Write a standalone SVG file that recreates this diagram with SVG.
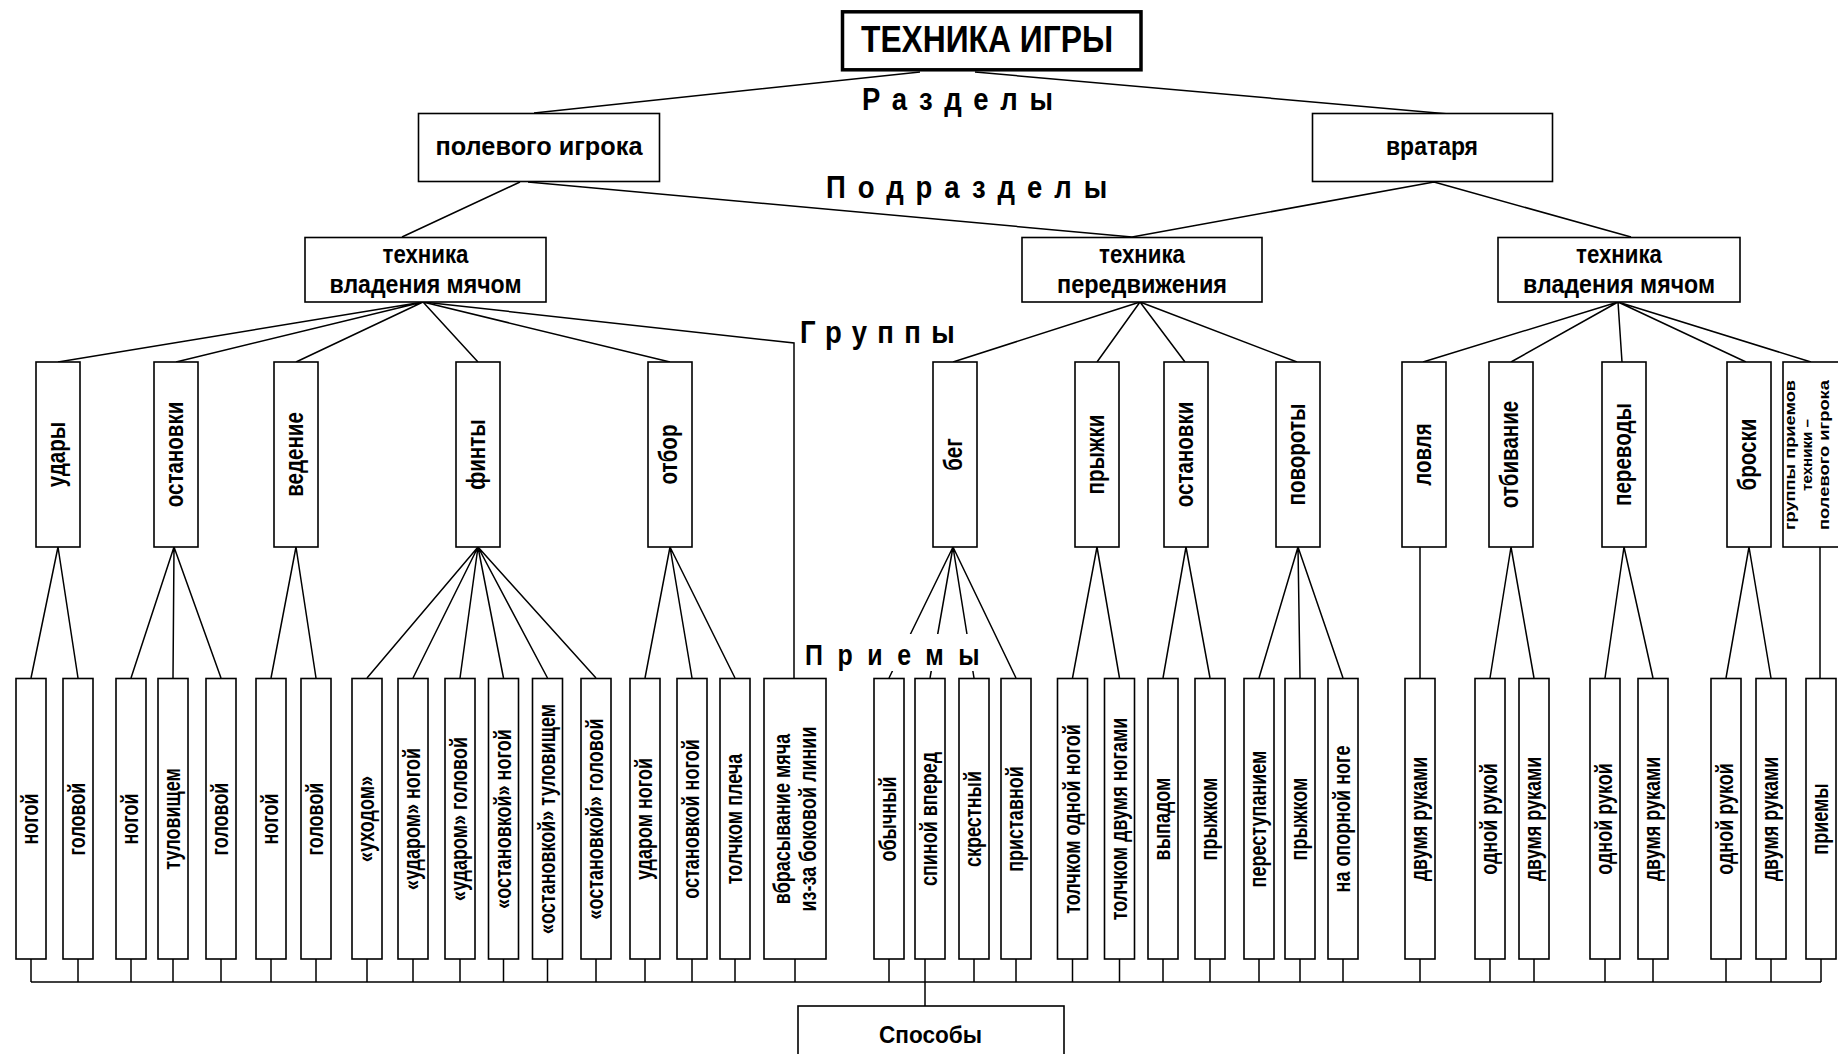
<svg xmlns="http://www.w3.org/2000/svg" width="1838" height="1054" viewBox="0 0 1838 1054">
<style>
text { font-family: "Liberation Sans", Arial, sans-serif; font-weight: bold; fill: #000; }
.box { fill: #fff; stroke: #000; stroke-width: 1.6; }
.title { fill: #fff; stroke: #000; stroke-width: 3.5; }
.ln { stroke: #000; stroke-width: 1.5; fill: none; }
.lbl { font-size: 32px; }
.t26 { font-size: 26px; }
.grp { font-size: 26px; text-anchor: middle; }
.leaf { font-size: 24px; text-anchor: middle; }
.tiny { font-size: 14px; }
</style>

<g id="connectors" class="ln">
  <path d="M920,72 L534,113 M975,72 L1449,114"/>
  <path d="M520,182 L402,237 M528,182 L1132,237 M1434,182 L1132,237 M1434,182 L1631,237"/>
  <path d="M423,302 L58,362 M423,302 L176,362 M423,302 L296,362 M423,302 L478,362 M423,302 L670,362"/>
  <polyline points="423,302 794,343 794,678"/>
  <path d="M1140,302 L953,362 M1140,302 L1097,362 M1140,302 L1185,362 M1140,302 L1297,362"/>
  <path d="M1618,302 L1423,362 M1618,302 L1511,362 M1618,302 L1622,362 M1618,302 L1746,362 M1618,302 L1811,362"/>
  <path d="M58,547 L31,678 M58,547 L78,678"/>
  <path d="M174,547 L131,678 M174,547 L173,678 M174,547 L221,678"/>
  <path d="M296,547 L271,678 M296,547 L316,678"/>
  <path d="M478,547 L367,678 M478,547 L413,678 M478,547 L460,678 M478,547 L503.5,678 M478,547 L547.5,678 M478,547 L596,678"/>
  <path d="M670,547 L645,678 M670,547 L692,678 M670,547 L735,678"/>
  <path d="M953,547 L889,678 M953,547 L930,678 M953,547 L974,678 M953,547 L1016,678"/>
  <path d="M1097,547 L1072.5,678 M1097,547 L1119.5,678"/>
  <path d="M1186,547 L1163,678 M1186,547 L1210,678"/>
  <path d="M1298,547 L1259,678 M1298,547 L1300,678 M1298,547 L1343,678"/>
  <path d="M1420,547 L1420,678"/>
  <path d="M1511,547 L1490,678 M1511,547 L1534,678"/>
  <path d="M1624,547 L1605,678 M1624,547 L1653,678"/>
  <path d="M1749,547 L1726,678 M1749,547 L1771,678"/>
  <path d="M1820,547 L1820,678"/>
  <path d="M31,959V982 M78,959V982 M131,959V982 M173,959V982 M221,959V982 M271,959V982 M316,959V982 M367,959V982 M413,959V982 M460,959V982 M503.5,959V982 M547.5,959V982 M596,959V982 M645,959V982 M692,959V982 M735,959V982 M795,959V982 M889,959V982 M925,959V982 M974,959V982 M1016,959V982 M1072.5,959V982 M1119.5,959V982 M1163,959V982 M1210,959V982 M1259,959V982 M1300,959V982 M1343,959V982 M1420,959V982 M1490,959V982 M1534,959V982 M1605,959V982 M1653,959V982 M1726,959V982 M1771,959V982 M1821,959V982"/>
  <path d="M31,982 H1821"/>
  <path d="M925,982 V1006"/>
</g>

<g id="root">
  <rect class="title" x="842.5" y="11.8" width="298.5" height="58"/>
  <text x="861" y="52" style="font-size:37px" textLength="252" lengthAdjust="spacingAndGlyphs">ТЕХНИКА ИГРЫ</text>
</g>

<g id="labels">
  <text class="lbl" transform="translate(862,110) scale(0.86,1)" textLength="222" lengthAdjust="spacing">Разделы</text>
  <text class="lbl" transform="translate(826,198) scale(0.86,1)" textLength="327" lengthAdjust="spacing">Подразделы</text>
  <text class="lbl" transform="translate(800,343) scale(0.86,1)" textLength="180" lengthAdjust="spacing">Группы</text>
  <rect x="800" y="634" width="190" height="37" fill="#fff"/>
  <text style="font-size:29px" transform="translate(805,665) scale(0.86,1)" textLength="203" lengthAdjust="spacing">Приемы</text>
</g>

<g id="n-polevogo">
  <rect class="box" x="418.5" y="113.5" width="241" height="68"/>
  <text class="t26" x="435.5" y="155" textLength="207" lengthAdjust="spacingAndGlyphs">полевого игрока</text>
</g>
<g id="n-vratarya">
  <rect class="box" x="1312.5" y="113.5" width="240" height="68"/>
  <text class="t26" x="1386" y="155" textLength="92" lengthAdjust="spacingAndGlyphs">вратаря</text>
</g>

<g id="n-tvm1">
  <rect class="box" x="305" y="237.5" width="241" height="64.5"/>
  <text class="t26" x="382.5" y="263" textLength="86" lengthAdjust="spacingAndGlyphs">техника</text>
  <text class="t26" x="329.5" y="293" textLength="192" lengthAdjust="spacingAndGlyphs">владения мячом</text>
</g>
<g id="n-tp">
  <rect class="box" x="1022" y="237.5" width="240" height="64.5"/>
  <text class="t26" x="1099" y="263" textLength="86" lengthAdjust="spacingAndGlyphs">техника</text>
  <text class="t26" x="1057" y="293" textLength="170" lengthAdjust="spacingAndGlyphs">передвижения</text>
</g>
<g id="n-tvm2">
  <rect class="box" x="1498" y="237.5" width="242" height="64.5"/>
  <text class="t26" x="1576" y="263" textLength="86" lengthAdjust="spacingAndGlyphs">техника</text>
  <text class="t26" x="1523" y="293" textLength="192" lengthAdjust="spacingAndGlyphs">владения мячом</text>
</g>

<g id="g-udary"><rect class="box" x="36" y="362" width="44" height="185"/><text class="grp" transform="translate(58,454.5) rotate(-90) scale(0.79,1)" y="7">удары</text></g>
<g id="g-ostanovki1"><rect class="box" x="154" y="362" width="44" height="185"/><text class="grp" transform="translate(176,454.5) rotate(-90) scale(0.79,1)" y="7">остановки</text></g>
<g id="g-vedenie"><rect class="box" x="274" y="362" width="44" height="185"/><text class="grp" transform="translate(296,454.5) rotate(-90) scale(0.79,1)" y="7">ведение</text></g>
<g id="g-finty"><rect class="box" x="456" y="362" width="44" height="185"/><text class="grp" transform="translate(478,454.5) rotate(-90) scale(0.79,1)" y="7">финты</text></g>
<g id="g-otbor"><rect class="box" x="648" y="362" width="44" height="185"/><text class="grp" transform="translate(670,454.5) rotate(-90) scale(0.79,1)" y="7">отбор</text></g>
<g id="g-beg"><rect class="box" x="933" y="362" width="44" height="185"/><text class="grp" transform="translate(955,454.5) rotate(-90) scale(0.79,1)" y="7">бег</text></g>
<g id="g-pryzhki"><rect class="box" x="1075" y="362" width="44" height="185"/><text class="grp" transform="translate(1097,454.5) rotate(-90) scale(0.79,1)" y="7">прыжки</text></g>
<g id="g-ostanovki2"><rect class="box" x="1164" y="362" width="44" height="185"/><text class="grp" transform="translate(1186,454.5) rotate(-90) scale(0.79,1)" y="7">остановки</text></g>
<g id="g-povoroty"><rect class="box" x="1276" y="362" width="44" height="185"/><text class="grp" transform="translate(1298,454.5) rotate(-90) scale(0.79,1)" y="7">повороты</text></g>
<g id="g-lovlya"><rect class="box" x="1402" y="362" width="44" height="185"/><text class="grp" transform="translate(1424,454.5) rotate(-90) scale(0.79,1)" y="7">ловля</text></g>
<g id="g-otbivanie"><rect class="box" x="1489" y="362" width="44" height="185"/><text class="grp" transform="translate(1511,454.5) rotate(-90) scale(0.79,1)" y="7">отбивание</text></g>
<g id="g-perevody"><rect class="box" x="1602" y="362" width="44" height="185"/><text class="grp" transform="translate(1624,454.5) rotate(-90) scale(0.79,1)" y="7">переводы</text></g>
<g id="g-broski"><rect class="box" x="1727" y="362" width="44" height="185"/><text class="grp" transform="translate(1749,454.5) rotate(-90) scale(0.79,1)" y="7">броски</text></g>
<g id="g-gruppy">
  <rect class="box" x="1783" y="362" width="56" height="185"/>
  <g transform="translate(1820,455) rotate(-90)">
    <text class="tiny" x="-75" y="-25" textLength="150" lengthAdjust="spacingAndGlyphs">группы приемов</text>
    <text class="tiny" x="-36" y="-8" textLength="72" lengthAdjust="spacingAndGlyphs">техники –</text>
    <text class="tiny" x="-75" y="9" textLength="150" lengthAdjust="spacingAndGlyphs">полевого игрока</text>
  </g>
</g>

<g id="l01"><rect class="box" x="16" y="678.5" width="30" height="280.5"/><text class="leaf" transform="translate(31,819) rotate(-90) scale(0.75,1)" y="7">ногой</text></g>
<g id="l02"><rect class="box" x="63" y="678.5" width="30" height="280.5"/><text class="leaf" transform="translate(78,819) rotate(-90) scale(0.75,1)" y="7">головой</text></g>
<g id="l03"><rect class="box" x="116" y="678.5" width="30" height="280.5"/><text class="leaf" transform="translate(131,819) rotate(-90) scale(0.75,1)" y="7">ногой</text></g>
<g id="l04"><rect class="box" x="158" y="678.5" width="30" height="280.5"/><text class="leaf" transform="translate(173,819) rotate(-90) scale(0.75,1)" y="7">туловищем</text></g>
<g id="l05"><rect class="box" x="206" y="678.5" width="30" height="280.5"/><text class="leaf" transform="translate(221,819) rotate(-90) scale(0.75,1)" y="7">головой</text></g>
<g id="l06"><rect class="box" x="256" y="678.5" width="30" height="280.5"/><text class="leaf" transform="translate(271,819) rotate(-90) scale(0.75,1)" y="7">ногой</text></g>
<g id="l07"><rect class="box" x="301" y="678.5" width="30" height="280.5"/><text class="leaf" transform="translate(316,819) rotate(-90) scale(0.75,1)" y="7">головой</text></g>
<g id="l08"><rect class="box" x="352" y="678.5" width="30" height="280.5"/><text class="leaf" transform="translate(367,819) rotate(-90) scale(0.75,1)" y="7">«уходом»</text></g>
<g id="l09"><rect class="box" x="398" y="678.5" width="30" height="280.5"/><text class="leaf" transform="translate(413,819) rotate(-90) scale(0.75,1)" y="7">«ударом» ногой</text></g>
<g id="l10"><rect class="box" x="445" y="678.5" width="30" height="280.5"/><text class="leaf" transform="translate(460,819) rotate(-90) scale(0.75,1)" y="7">«ударом» головой</text></g>
<g id="l11"><rect class="box" x="488.5" y="678.5" width="30" height="280.5"/><text class="leaf" transform="translate(503.5,819) rotate(-90) scale(0.75,1)" y="7">«остановкой» ногой</text></g>
<g id="l12"><rect class="box" x="532.5" y="678.5" width="30" height="280.5"/><text class="leaf" transform="translate(547.5,819) rotate(-90) scale(0.75,1)" y="7">«остановкой» туловищем</text></g>
<g id="l13"><rect class="box" x="581" y="678.5" width="30" height="280.5"/><text class="leaf" transform="translate(596,819) rotate(-90) scale(0.75,1)" y="7">«остановкой» головой</text></g>
<g id="l14"><rect class="box" x="630" y="678.5" width="30" height="280.5"/><text class="leaf" transform="translate(645,819) rotate(-90) scale(0.75,1)" y="7">ударом ногой</text></g>
<g id="l15"><rect class="box" x="677" y="678.5" width="30" height="280.5"/><text class="leaf" transform="translate(692,819) rotate(-90) scale(0.75,1)" y="7">остановкой ногой</text></g>
<g id="l16"><rect class="box" x="720" y="678.5" width="30" height="280.5"/><text class="leaf" transform="translate(735,819) rotate(-90) scale(0.75,1)" y="7">толчком плеча</text></g>
<g id="l17"><rect class="box" x="764" y="678.5" width="62" height="280.5"/>
  <text class="leaf" transform="translate(795,819) rotate(-90) scale(0.75,1)" y="-5">вбрасывание мяча</text>
  <text class="leaf" transform="translate(795,819) rotate(-90) scale(0.75,1)" y="21">из-за боковой линии</text></g>
<g id="l18"><rect class="box" x="874" y="678.5" width="30" height="280.5"/><text class="leaf" transform="translate(889,819) rotate(-90) scale(0.75,1)" y="7">обычный</text></g>
<g id="l19"><rect class="box" x="915" y="678.5" width="30" height="280.5"/><text class="leaf" transform="translate(930,819) rotate(-90) scale(0.75,1)" y="7">спиной вперед</text></g>
<g id="l20"><rect class="box" x="959" y="678.5" width="30" height="280.5"/><text class="leaf" transform="translate(974,819) rotate(-90) scale(0.75,1)" y="7">скрестный</text></g>
<g id="l21"><rect class="box" x="1001" y="678.5" width="30" height="280.5"/><text class="leaf" transform="translate(1016,819) rotate(-90) scale(0.75,1)" y="7">приставной</text></g>
<g id="l22"><rect class="box" x="1057.5" y="678.5" width="30" height="280.5"/><text class="leaf" transform="translate(1072.5,819) rotate(-90) scale(0.75,1)" y="7">толчком одной ногой</text></g>
<g id="l23"><rect class="box" x="1104.5" y="678.5" width="30" height="280.5"/><text class="leaf" transform="translate(1119.5,819) rotate(-90) scale(0.75,1)" y="7">толчком двумя ногами</text></g>
<g id="l24"><rect class="box" x="1148" y="678.5" width="30" height="280.5"/><text class="leaf" transform="translate(1163,819) rotate(-90) scale(0.75,1)" y="7">выпадом</text></g>
<g id="l25"><rect class="box" x="1195" y="678.5" width="30" height="280.5"/><text class="leaf" transform="translate(1210,819) rotate(-90) scale(0.75,1)" y="7">прыжком</text></g>
<g id="l26"><rect class="box" x="1244" y="678.5" width="30" height="280.5"/><text class="leaf" transform="translate(1259,819) rotate(-90) scale(0.75,1)" y="7">переступанием</text></g>
<g id="l27"><rect class="box" x="1285" y="678.5" width="30" height="280.5"/><text class="leaf" transform="translate(1300,819) rotate(-90) scale(0.75,1)" y="7">прыжком</text></g>
<g id="l28"><rect class="box" x="1328" y="678.5" width="30" height="280.5"/><text class="leaf" transform="translate(1343,819) rotate(-90) scale(0.75,1)" y="7">на опорной ноге</text></g>
<g id="l29"><rect class="box" x="1405" y="678.5" width="30" height="280.5"/><text class="leaf" transform="translate(1420,819) rotate(-90) scale(0.75,1)" y="7">двумя руками</text></g>
<g id="l30"><rect class="box" x="1475" y="678.5" width="30" height="280.5"/><text class="leaf" transform="translate(1490,819) rotate(-90) scale(0.75,1)" y="7">одной рукой</text></g>
<g id="l31"><rect class="box" x="1519" y="678.5" width="30" height="280.5"/><text class="leaf" transform="translate(1534,819) rotate(-90) scale(0.75,1)" y="7">двумя руками</text></g>
<g id="l32"><rect class="box" x="1590" y="678.5" width="30" height="280.5"/><text class="leaf" transform="translate(1605,819) rotate(-90) scale(0.75,1)" y="7">одной рукой</text></g>
<g id="l33"><rect class="box" x="1638" y="678.5" width="30" height="280.5"/><text class="leaf" transform="translate(1653,819) rotate(-90) scale(0.75,1)" y="7">двумя руками</text></g>
<g id="l34"><rect class="box" x="1711" y="678.5" width="30" height="280.5"/><text class="leaf" transform="translate(1726,819) rotate(-90) scale(0.75,1)" y="7">одной рукой</text></g>
<g id="l35"><rect class="box" x="1756" y="678.5" width="30" height="280.5"/><text class="leaf" transform="translate(1771,819) rotate(-90) scale(0.75,1)" y="7">двумя руками</text></g>
<g id="l36"><rect class="box" x="1806" y="678.5" width="30" height="280.5"/><text class="leaf" transform="translate(1821,819) rotate(-90) scale(0.75,1)" y="7">приемы</text></g>

<g id="n-sposoby">
  <rect class="box" x="798" y="1006" width="266" height="70"/>
  <text style="font-size:24px" x="879" y="1043" textLength="103" lengthAdjust="spacingAndGlyphs">Способы</text>
</g>
</svg>
